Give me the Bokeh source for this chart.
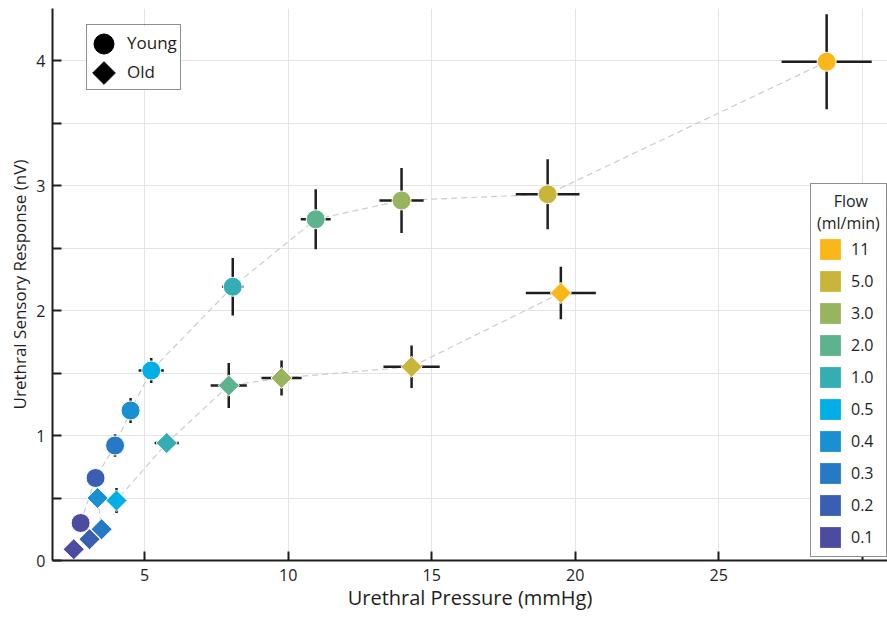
import numpy as np
from bokeh.plotting import figure
from bokeh.models import Range1d, FixedTicker, Legend, LegendItem, ColumnDataSource
from bokeh.embed import file_html
from bokeh.resources import INLINE

# ---- data ----
flow_labels = ["0.1", "0.2", "0.3", "0.4", "0.5", "1.0", "2.0", "3.0", "5.0", "11"]
flow_colors = ["#4B4BA0", "#3A5EB1", "#2679C5", "#1890D2", "#02AEE6",
               "#34ADB3", "#5DB38E", "#97B45F", "#C8B53A", "#F9B719"]

young_x = [2.77, 3.29, 3.97, 4.51, 5.23, 8.07, 10.96, 13.95, 19.04, 28.76]
young_y = [0.30, 0.66, 0.92, 1.20, 1.52, 2.19, 2.73, 2.88, 2.93, 3.99]
young_xerr = [0.0, 0.0, 0.05, 0.05, 0.44, 0.37, 0.52, 0.77, 1.11, 1.57]
young_yerr = [0.03, 0.05, 0.09, 0.10, 0.10, 0.23, 0.24, 0.26, 0.28, 0.38]

old_x = [2.53, 3.08, 3.50, 3.36, 4.02, 5.77, 7.93, 9.77, 14.30, 19.50]
old_y = [0.09, 0.17, 0.25, 0.50, 0.48, 0.94, 1.40, 1.46, 1.55, 2.14]
old_xerr = [0.0, 0.0, 0.0, 0.05, 0.05, 0.42, 0.63, 0.70, 0.98, 1.22]
old_yerr = [0.03, 0.04, 0.04, 0.06, 0.10, 0.05, 0.18, 0.14, 0.17, 0.21]

group_labels = ["Young", "Old"]

x_ticks = [5, 10, 15, 20, 25]
x_minor = [30]
y_ticks = [0, 1, 2, 3, 4]
y_minor = [0.5, 1.5, 2.5, 3.5]

FONT = "Open Sans"
INK = "#1e1e1e"
NAN = float("nan")

W, H = 887, 617
BL, BR, BT, BB = 52, 0, 8, 57
FW, FH = W - BL - BR, H - BT - BB

p = figure(width=W, height=H, output_backend="svg", toolbar_location=None,
           x_range=Range1d(1.79, 30.88), y_range=Range1d(0, 4.416),
           min_border_left=BL, min_border_right=BR, min_border_top=BT,
           min_border_bottom=BB)
p.outline_line_color = None
p.background_fill_color = "white"
# a pixel coordinate system for the legend keys
p.extra_x_ranges["px"] = Range1d(0, FW)
p.extra_y_ranges["px"] = Range1d(0, FH)

# axes
p.xaxis.ticker = FixedTicker(ticks=x_ticks, minor_ticks=x_minor)
p.yaxis.ticker = FixedTicker(ticks=y_ticks, minor_ticks=y_minor)
p.xaxis.axis_label = "Urethral Pressure (mmHg)"
p.yaxis.axis_label = "Urethral Sensory Response (nV)"
for ax in p.axis:
    ax.axis_line_width = 2
    ax.axis_line_color = INK
    ax.major_tick_line_width = 2
    ax.major_tick_line_color = INK
    ax.minor_tick_line_width = 2
    ax.minor_tick_line_color = INK
    ax.major_tick_in = 9
    ax.major_tick_out = 0
    ax.minor_tick_in = 9
    ax.minor_tick_out = 0
    ax.major_label_text_font = FONT
    ax.major_label_text_font_size = "16px"
    ax.major_label_text_color = INK
    ax.axis_label_text_font = FONT
    ax.axis_label_text_font_style = "normal"
    ax.axis_label_text_color = INK
p.xaxis.axis_label_text_font_size = "20px"
p.yaxis.axis_label_text_font_size = "17px"
p.xaxis.major_label_standoff = 8
p.xaxis.axis_label_standoff = 0
p.yaxis.major_label_standoff = 7
p.yaxis.axis_label_standoff = 2

for g in (p.xgrid, p.ygrid):
    g.grid_line_color = "#e4e4e4"
    g.grid_line_width = 1
    g.minor_grid_line_color = "#e4e4e4"
    g.minor_grid_line_width = 1

# connecting dashed lines
for xs, ys in ((young_x, young_y), (old_x, old_y)):
    p.line(xs, ys, line_color="#cccccc", line_dash="6 4", line_width=1.2)

# error bars
for xs, ys, xe, ye in ((young_x, young_y, young_xerr, young_yerr),
                       (old_x, old_y, old_xerr, old_yerr)):
    xa, ya, xea, yea = map(np.asarray, (xs, ys, xe, ye))
    p.segment(x0=xa - xea, x1=xa + xea, y0=ya, y1=ya, line_color=INK, line_width=2.5)
    p.segment(x0=xa, x1=xa, y0=ya - yea, y1=ya + yea, line_color=INK, line_width=2.5)

# markers
p.scatter(young_x, young_y, marker="circle", size=19, fill_color=flow_colors,
          line_color="white", line_width=1)
p.scatter(old_x, old_y, marker="square", angle=np.pi / 4, size=15,
          fill_color=flow_colors, line_color="white", line_width=1)

# ---- legend: Young / Old ----
# white panel + full-size keys in pixel space, border and labels from a Legend
LEG1_LEFT, LEG1_TOP, LEG1_PAD, LEG1_ROW, LEG1_W = 86, 26, 3, 29, 94
leg1_bottom = (H - BB) - (LEG1_TOP + 2 * LEG1_PAD + 2 * LEG1_ROW)
p.quad(left=[LEG1_LEFT - BL], right=[LEG1_LEFT - BL + LEG1_W],
       bottom=[leg1_bottom], top=[(H - BB) - LEG1_TOP],
       fill_color="white", line_color=None, x_range_name="px", y_range_name="px")
key_x = LEG1_LEFT - BL + LEG1_PAD + LEG1_ROW / 2
key_y = [(H - BB) - (LEG1_TOP + LEG1_PAD + LEG1_ROW * (i + 0.5)) for i in range(2)]
p.scatter(x=[key_x], y=[key_y[0]], marker="circle", size=20, color="black",
          x_range_name="px", y_range_name="px")
p.scatter(x=[key_x], y=[key_y[1]], marker="square", angle=np.pi / 4, size=16,
          color="black", x_range_name="px", y_range_name="px")
proxy = p.scatter(x=[NAN], y=[NAN], marker="circle", fill_alpha=0, line_alpha=0)
leg1 = Legend(items=[LegendItem(label=lab, renderers=[proxy]) for lab in group_labels],
              location=(LEG1_LEFT - BL, leg1_bottom),
              glyph_width=LEG1_ROW, glyph_height=LEG1_ROW, spacing=0,
              padding=LEG1_PAD, label_standoff=8, border_line_color=INK,
              border_line_width=1.5, label_text_font=FONT,
              label_text_font_size="17px", label_text_color=INK,
              background_fill_alpha=0)
p.add_layout(leg1, "center")

# ---- legend: flow colours ----
n = len(flow_colors)
flow_src = ColumnDataSource(dict(left=[NAN] * n, right=[NAN] * n, top=[NAN] * n,
                                 bottom=[NAN] * n, color=flow_colors))
r_flow = p.quad(left="left", right="right", top="top", bottom="bottom",
                fill_color="color", line_color=None, source=flow_src)
items = [LegendItem(label=flow_labels[i], renderers=[r_flow], index=i)
         for i in range(n - 1, -1, -1)]
leg2 = Legend(items=items, location=(810 - BL, (H - BB) - 557),
              title="\u00a0\u00a0\u00a0\u00a0Flow\n(ml/min)",
              title_text_font=FONT, title_text_font_size="16px",
              title_text_font_style="normal", title_text_color=INK, title_standoff=2,
              glyph_width=26, glyph_height=26, spacing=6, padding=6,
              label_standoff=8, label_text_font=FONT, label_text_font_size="16px",
              label_text_color=INK, border_line_color=INK, border_line_width=1.5,
              background_fill_alpha=1)
p.add_layout(leg2, "center")

open("out.html", "w").write(file_html(p, INLINE))
